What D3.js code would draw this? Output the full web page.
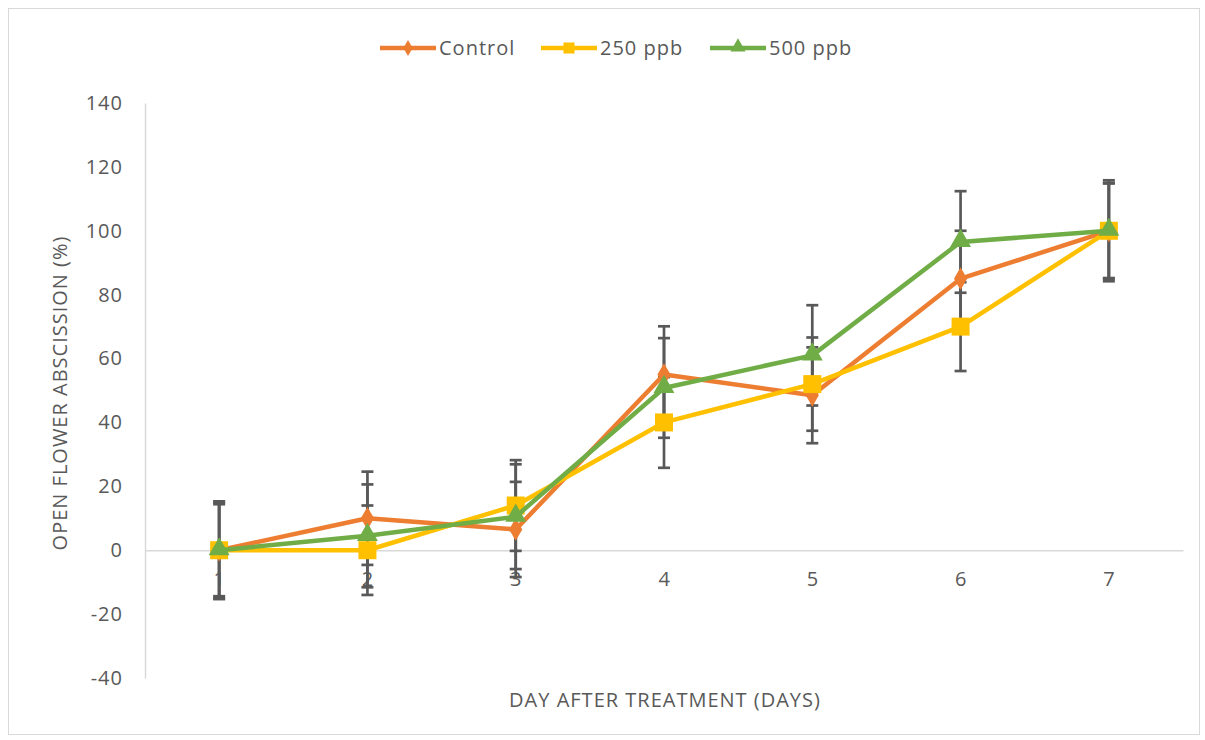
<!DOCTYPE html>
<html>
<head>
<meta charset="utf-8">
<script src="https://cdn.jsdelivr.net/npm/d3@7"></script>
<style>
  html, body { margin: 0; padding: 0; background: #fff; }
  svg { display: block; }
  text { font-family: "Open Sans", Lato, sans-serif; fill: #595959; letter-spacing: 1px; }
</style>
</head>
<body>
<svg id="chart" width="1205" height="740"></svg>
<script>
const days = ["1", "2", "3", "4", "5", "6", "7"];
const yTicks = [-40, -20, 0, 20, 40, 60, 80, 100, 120, 140];
const seriesNames = ["Control", "250 ppb", "500 ppb"];
const controlValues = [0, 10, 6.5, 55, 48.5, 85, 100];
const ppb250Values = [0, 0, 14, 40, 52, 70, 100];
const ppb500Values = [0, 4.5, 10.5, 50.8, 61, 96.5, 100];
const controlErr = [15.3, 14.6, 14.9, 15.1, 15, 15, 15];
const ppb250Err = [14.4, 14, 14.2, 14.2, 14.6, 13.9, 15.8];
const ppb500Err = [15, 16.1, 16.4, 15.6, 15.7, 15.9, 14.8];
const xTitle = "DAY AFTER TREATMENT (DAYS)";
const yTitle = "OPEN FLOWER ABSCISSION (%)";

const colors = ["#ED7D31", "#FFC000", "#70AD47"];
const symbols = [d3.symbolDiamond, d3.symbolSquare, d3.symbolTriangle];
const symSizes = [150, 324, 190];
const legSymSizes = [75, 121, 100];
const fs = "20px";

const series = seriesNames.map((name, i) => ({
  name,
  values: [controlValues, ppb250Values, ppb500Values][i],
  errs: [controlErr, ppb250Err, ppb500Err][i],
  color: colors[i],
  symbol: symbols[i]
}));

const svg = d3.select("#chart");
svg.append("rect").attr("x", 8.5).attr("y", 8.5).attr("width", 1191).attr("height", 726)
  .attr("fill", "#fff").attr("stroke", "#D9D9D9").attr("stroke-width", 1);

const pLeft = 145, pRight = 1183, pTop = 103, pBottom = 678;
const x = d3.scaleBand().domain(days).range([pLeft, pRight]).padding(0);
const cx = d => x(d) + x.bandwidth() / 2;
const y = d3.scaleLinear().domain([-40, 140]).range([pBottom, pTop]);

// Y axis
const yAxis = svg.append("g").attr("transform", `translate(${pLeft},0)`)
  .call(d3.axisLeft(y).tickValues(yTicks).tickFormat(d => String(d))
    .tickSizeInner(0).tickSizeOuter(0).tickPadding(22));
yAxis.select(".domain").attr("stroke", "#D9D9D9").attr("stroke-width", 1.5);
yAxis.selectAll("text").style("font-size", fs).attr("fill", "#595959");

// X axis
const xAxis = svg.append("g").attr("transform", `translate(0,${y(0)})`)
  .call(d3.axisBottom(x).tickSizeInner(0).tickSizeOuter(0).tickPadding(22));
xAxis.select(".domain").attr("stroke", "#D9D9D9").attr("stroke-width", 1.5);
xAxis.selectAll("text").style("font-size", fs).attr("fill", "#595959").attr("dx", "0.03em");
svg.selectAll("g").attr("font-family", null);

// Error bars
const eb = svg.append("g");
series.forEach(s => {
  days.forEach((d, i) => {
    const v = s.values[i], e = s.errs[i];
    const px = cx(d);
    eb.append("line").attr("x1", px).attr("x2", px).attr("y1", y(v + e)).attr("y2", y(v - e))
      .attr("stroke", "#595959").attr("stroke-width", 2.7);
    [v + e, v - e].forEach(t => {
      eb.append("line").attr("x1", px - 6).attr("x2", px + 6).attr("y1", y(t)).attr("y2", y(t))
        .attr("stroke", "#595959").attr("stroke-width", 2.7);
    });
  });
});

// Lines and markers
const line = d3.line().x((v, i) => cx(days[i])).y(v => y(v));
series.forEach((s, si) => {
  const g = svg.append("g");
  g.append("path").datum(s.values).attr("d", line).attr("fill", "none")
    .attr("stroke", s.color).attr("stroke-width", 4.5).attr("stroke-linejoin", "round").attr("stroke-linecap", "round");
  g.selectAll("path.m").data(s.values).enter().append("path").attr("class", "m")
    .attr("d", d3.symbol().type(s.symbol).size(symSizes[si]))
    .attr("transform", (v, i) => `translate(${cx(days[i])},${y(v) + (si === 2 ? -1 : 0)})`)
    .attr("fill", s.color);
});

// Axis titles
svg.append("text").attr("x", 665).attr("y", 707).attr("text-anchor", "middle")
  .style("font-size", fs).text(xTitle);
svg.append("text").attr("transform", `translate(67,393) rotate(-90)`)
  .attr("text-anchor", "middle").style("font-size", fs).text(yTitle);

// Legend
const legX = [380, 541, 710];
const leg = svg.append("g");
series.forEach((s, i) => {
  const lg = leg.append("g").attr("transform", `translate(${legX[i]},48)`);
  lg.append("line").attr("x1", 0).attr("x2", 56).attr("y1", 0).attr("y2", 0)
    .attr("stroke", s.color).attr("stroke-width", 4.5);
  lg.append("path").attr("d", d3.symbol().type(s.symbol).size(legSymSizes[i])).attr("transform", `translate(28,${i === 2 ? -1 : 0})`)
    .attr("fill", s.color);
  lg.append("text").attr("x", 59).attr("y", 0).attr("dy", "0.35em").style("font-size", fs).text(s.name);
});
</script>
</body>
</html>
